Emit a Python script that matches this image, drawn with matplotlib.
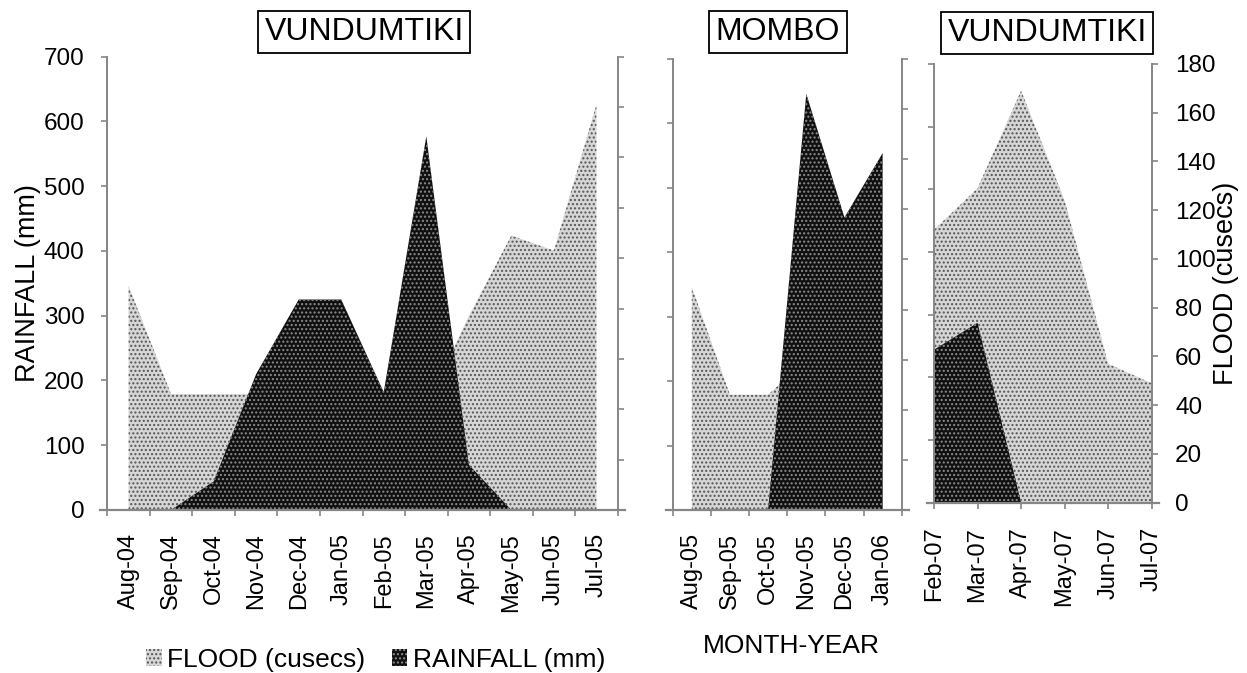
import matplotlib
matplotlib.use('Agg')
import matplotlib.pyplot as plt
from matplotlib.lines import Line2D
import numpy as np

plt.rcParams['font.family'] = ['Liberation Sans', 'DejaVu Sans']
plt.rcParams['hatch.linewidth'] = 1.0

# ---------------- data ----------------
left_months = ['Aug-04', 'Sep-04', 'Oct-04', 'Nov-04', 'Dec-04', 'Jan-05',
               'Feb-05', 'Mar-05', 'Apr-05', 'May-05', 'Jun-05', 'Jul-05']
left_rain = [0, 0, 44, 210, 325, 325, 182, 577, 70, 0, 0, 0]
left_flood = [89, 46, 46, 46, 45, 44, 42, 41, 77, 109, 103, 161]

mid_months = ['Aug-05', 'Sep-05', 'Oct-05', 'Nov-05', 'Dec-05', 'Jan-06']
mid_rain = [0, 0, 0, 646, 454, 554]
mid_flood = [89, 46, 46, 60, 55, 50]

right_months = ['Feb-07', 'Mar-07', 'Apr-07', 'May-07', 'Jun-07', 'Jul-07']
right_rain = [244, 287, 0, 0, 0, 0]
right_flood = [112, 129, 169, 124, 57, 49]

titles = ['VUNDUMTIKI', 'MOMBO', 'VUNDUMTIKI']
rain_ticks = list(range(0, 701, 100))
flood_ticks = list(range(0, 181, 20))

# ---------------- styling ----------------
W, H = 1247, 673
fig = plt.figure(figsize=(W / 100, H / 100), dpi=100)
GRAY = '#868686'
FLOOD_STYLE = dict(facecolor='#d6d6d6', edgecolor='#555555', hatch='....', linewidth=0)
RAIN_STYLE = dict(facecolor='#101010', edgecolor='#8c8c8c', hatch='....', linewidth=0)


def rect(x0, x1, ytop, ybot):
    return [x0 / W, 1 - ybot / H, (x1 - x0) / W, (ybot - ytop) / H]


panels = [
    dict(months=left_months, rain=left_rain, flood=left_flood,
         pos=(107.3, 617.7, 56.7, 510), centered=True,
         left_labels=True, right_labels=False),
    dict(months=mid_months, rain=mid_rain, flood=mid_flood,
         pos=(672.7, 901.7, 59, 510), centered=True,
         left_labels=False, right_labels=False),
    dict(months=right_months, rain=right_rain, flood=right_flood,
         pos=(934, 1151.7, 64, 502.7), centered=False,
         left_labels=False, right_labels=True),
]

handles = None
for p in panels:
    x0, x1, yt, yb = p['pos']
    ax = fig.add_axes(rect(*p['pos']))
    ax2 = ax.twinx()
    ax.set_zorder(ax2.get_zorder() + 1)
    ax.patch.set_visible(False)

    n = len(p['months'])
    xs = np.arange(n)
    hf = ax2.fill_between(xs, p['flood'], 0, **FLOOD_STYLE)
    hr = ax.fill_between(xs, p['rain'], 0, **RAIN_STYLE)
    if handles is None:
        handles = [hf, hr]

    ax.set_ylim(0, 700)
    ax2.set_ylim(0, 180)
    ax.set_yticks(rain_ticks)
    ax2.set_yticks(flood_ticks)
    if not p['left_labels']:
        ax.set_yticklabels([])
    if not p['right_labels']:
        ax2.set_yticklabels([])

    if p['centered']:
        ax.set_xlim(-0.5, n - 0.5)
        ax.set_xticks(np.arange(n + 1) - 0.5)
        ax.set_xticklabels([])
        ax.set_xticks(xs, labels=p['months'], minor=True)
        ax.tick_params(axis='x', which='minor', length=0, pad=16.5,
                       labelsize=17, labelrotation=90)
    else:
        ax.set_xlim(0, n - 1)
        ax.set_xticks(xs, labels=p['months'])
        ax.tick_params(axis='x', which='major', pad=13, labelsize=17,
                       labelrotation=90)

    for a in (ax, ax2):
        a.spines['top'].set_visible(False)
        a.spines['bottom'].set_visible(False)
    ax.spines['right'].set_visible(False)
    ax2.spines['left'].set_visible(False)
    ax.spines['left'].set_color(GRAY)
    ax.spines['left'].set_linewidth(1.4)
    ax2.spines['right'].set_color(GRAY)
    ax2.spines['right'].set_linewidth(1.4)

    ax.tick_params(axis='both', which='major', direction='out', length=4.3,
                   width=1.2, color=GRAY, labelsize=17.5, pad=12)
    ax.tick_params(axis='x', which='major', pad=13, labelsize=17)
    ax2.tick_params(axis='y', direction='out', length=4.3, width=1.2,
                    color=GRAY, labelsize=17.5, pad=12.5)

    ext = 7.0 / (x1 - x0)
    ax.add_line(Line2D([-ext, 1 + ext], [0, 0], transform=ax.transAxes,
                       clip_on=False, color=GRAY, linewidth=1.6, zorder=5))

# titles with boxes
title_pos = [(364, 32), (778, 32), (1047, 33)]
for t, (tx, ty) in zip(titles, title_pos):
    fig.text(tx / W, 1 - ty / H, t, ha='center', va='center', fontsize=23,
             bbox=dict(boxstyle='square,pad=0.2', facecolor='white',
                       edgecolor='black', linewidth=1.3))

# axis labels
fig.text(28.5 / W, 1 - 283 / H, 'RAINFALL (mm)', rotation=90,
         ha='center', va='center', fontsize=19.5)
fig.text(1226 / W, 1 - 283 / H, 'FLOOD (cusecs)', rotation=90,
         ha='center', va='center', fontsize=19.5)
fig.text(791 / W, 1 - 646 / H, 'MONTH-YEAR', ha='center', va='center',
         fontsize=19)

fig.legend(handles, ['FLOOD (cusecs)', 'RAINFALL (mm)'], loc='center left',
           bbox_to_anchor=(146 / W, 1 - 660 / H), ncol=2, frameon=False,
           fontsize=19, handlelength=0.6, handleheight=0.6,
           handletextpad=0.2, columnspacing=1.0, borderpad=0,
           borderaxespad=0)

fig.savefig('out.png', dpi=100)
